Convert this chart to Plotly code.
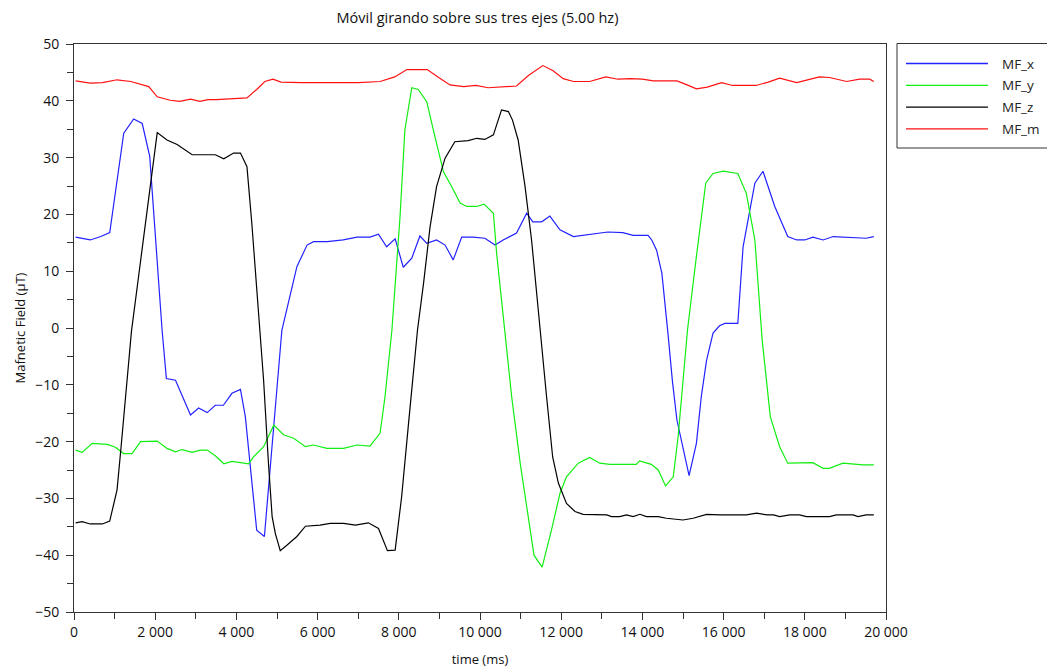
import plotly.graph_objects as go

# ---------------- data ----------------
t_x = [40, 400, 660, 880, 1225, 1470, 1680, 1865, 2170, 2275, 2500, 2870, 3070, 3280, 3480, 3680, 3890, 4100,
       4220, 4500, 4690, 5120, 5490, 5740, 5900, 6240, 6630, 6970, 7290, 7500, 7700, 7910, 8110, 8320, 8520,
       8690, 8930, 9140, 9340, 9550, 9830, 10120, 10370, 10570, 10900, 11150, 11300, 11520, 11720, 11970,
       12300, 12700, 13150, 13520, 13770, 14140, 14230, 14350, 14480, 14630, 14740, 14850, 15040, 15150,
       15330, 15450, 15580, 15740, 15900, 16030, 16350, 16480, 16770, 16970, 17260, 17580, 17800, 18000,
       18200, 18450, 18700, 19020, 19510, 19700]
mf_x = [16.0, 15.5, 16.1, 16.8, 34.3, 36.8, 36.0, 30.2, -0.4, -8.9, -9.2, -15.3, -14.1, -14.9, -13.6, -13.6, -11.5, -10.8,
        -15.6, -35.6, -36.7, -0.4, 10.8, 14.6, 15.2, 15.2, 15.5, 16.0, 16.0, 16.5, 14.3, 15.7, 10.7, 12.3, 16.2,
        14.9, 15.5, 14.6, 12.0, 16.0, 16.0, 15.8, 14.6, 15.5, 16.7, 20.2, 18.7, 18.7, 19.7, 17.3,
        16.1, 16.5, 16.9, 16.8, 16.3, 16.3, 15.5, 13.7, 9.6, -1.0, -9.4, -16.2, -22.1, -26.0,
        -20.3, -12.1, -5.7, -0.9, 0.4, 0.8, 0.8, 14.3, 25.5, 27.6, 21.4, 16.1, 15.5, 15.5,
        16.0, 15.5, 16.1, 16.0, 15.8, 16.1]

t_y = [40, 200, 450, 820, 1020, 1220, 1430, 1640, 2050, 2290, 2500, 2660, 2910, 3110, 3280, 3480, 3690, 3890,
       4300, 4420, 4670, 4920, 5160, 5410, 5700, 5900, 6230, 6640, 6970, 7290, 7540, 7660, 7830, 8030, 8150,
       8320, 8480, 8690, 8850, 9100, 9300, 9510, 9670, 9920, 10100, 10330, 10410, 10640, 10780, 10990, 11230,
       11330, 11530, 11760, 11970, 12130, 12420, 12700, 12950, 13200, 13850, 13930, 14220, 14390, 14570,
       14760, 14880, 15110, 15330, 15560, 15740, 15990, 16350, 16560, 16770, 16950, 17150, 17380, 17580,
       17870, 18200, 18450, 18600, 18940, 19430, 19700]
mf_y = [-21.5, -21.9, -20.3, -20.5, -21.0, -22.1, -22.1, -20.0, -19.9, -21.2, -21.8, -21.4, -21.9, -21.5, -21.5, -22.5, -23.9, -23.5,
        -23.9, -22.7, -20.9, -17.1, -18.8, -19.4, -20.9, -20.6, -21.2, -21.2, -20.6, -20.8, -18.5, -12.1, -0.4, 19.6, 34.9,
        42.3, 42.0, 39.8, 34.9, 27.5, 24.9, 22.0, 21.4, 21.4, 21.8, 20.2, 13.1, -2.1, -12.1, -23.8, -35.6,
        -40.0, -42.1, -35.6, -29.1, -26.2, -23.8, -22.8, -23.8, -24.0, -24.0, -23.4, -24.0, -25.0, -27.8,
        -26.2, -19.1, -0.4, 12.6, 25.5, 27.2, 27.6, 27.2, 23.7, 15.5, -2.1, -15.6, -20.9, -23.8,
        -23.7, -23.7, -24.7, -24.7, -23.8, -24.1, -24.1]

t_z = [40, 200, 400, 700, 880, 1060, 1160, 1415, 1600, 1815, 2050, 2290, 2540, 2910, 3480, 3690, 3930, 4100,
       4260, 4380, 4590, 4670, 4790, 4880, 4960, 5080, 5250, 5490, 5700, 6060, 6310, 6640, 6930, 7250, 7500,
       7620, 7720, 7910, 8070, 8240, 8460, 8610, 8770, 8930, 9140, 9380, 9710, 9920, 10120, 10330, 10530,
       10700, 10800, 10940, 11110, 11270, 11500, 11640, 11790, 11930, 12130, 12340, 12540, 12790, 13120,
       13240, 13440, 13610, 13770, 13940, 14100, 14390, 14590, 15000, 15250, 15580, 15900, 16560, 16810,
       17070, 17230, 17380, 17630, 17870, 18040, 18610, 18780, 19190, 19310, 19510, 19700]
mf_z = [-34.3, -34.1, -34.5, -34.5, -34.0, -28.5, -20.9, -0.6, 9.6, 21.4, 34.4, 33.1, 32.3, 30.5, 30.5, 29.8, 30.8, 30.8,
        28.4, 18.4, -2.1, -9.2, -23.8, -33.2, -36.2, -39.2, -38.2, -36.7, -34.9, -34.7, -34.4, -34.4, -34.7, -34.3, -35.3,
        -37.3, -39.2, -39.1, -29.7, -16.8, -0.4, 7.9, 17.8, 24.9, 29.9, 32.8, 33.0, 33.4, 33.2, 34.0, 38.4,
        38.1, 36.6, 33.1, 24.9, 15.5, -2.1, -12.1, -22.7, -27.3, -30.9, -32.3, -32.8, -32.8, -32.9,
        -33.2, -33.2, -32.9, -33.2, -32.8, -33.2, -33.2, -33.5, -33.8, -33.5, -32.8, -32.9, -32.9, -32.6,
        -32.9, -32.9, -33.2, -32.9, -32.9, -33.2, -33.2, -32.9, -32.9, -33.2, -32.9, -32.9]

t_m = [40, 400, 700, 1060, 1400, 1700, 1840, 2050, 2370, 2600, 2870, 3100, 3300, 3500, 3900, 4260, 4500, 4700,
       4900, 5100, 5600, 6300, 7000, 7540, 7900, 8200, 8700, 9000, 9260, 9600, 9900, 10200, 10600, 10900,
       11200, 11550, 11800, 12050, 12300, 12700, 13100, 13400, 13700, 14000, 14270, 14850, 15100, 15330,
       15600, 15950, 16220, 16800, 17100, 17380, 17800, 18000, 18360, 18610, 19030, 19350, 19600, 19700]
mf_m = [43.5, 43.1, 43.2, 43.7, 43.4, 42.8, 42.5, 40.7, 40.1, 39.9, 40.3, 39.9, 40.2, 40.2, 40.4, 40.5, 42.0, 43.4,
        43.8, 43.3, 43.2, 43.2, 43.2, 43.4, 44.2, 45.5, 45.5, 44.0, 42.8, 42.5, 42.7, 42.3, 42.4, 42.6,
        44.5, 46.2, 45.3, 43.9, 43.4, 43.4, 44.2, 43.8, 43.9, 43.8, 43.5, 43.5, 42.8, 42.1,
        42.4, 43.2, 42.7, 42.7, 43.3, 44.0, 43.2, 43.6, 44.2, 44.1, 43.4, 43.8, 43.8, 43.4]

series_names = ["MF_x", "MF_y", "MF_z", "MF_m"]
series_colors = ["#2222ff", "#11ee11", "#000000", "#ff1111"]

title_text = "Móvil girando sobre sus tres ejes (5.00 hz)"
x_title = "time (ms)"
y_title = "Mafnetic Field (µT)"

FONT = "Open Sans, Noto Sans, DejaVu Sans, sans-serif"

# ---------------- figure ----------------
fig = go.Figure()
for tt, vv, name, col in zip([t_x, t_y, t_z, t_m], [mf_x, mf_y, mf_z, mf_m], series_names, series_colors):
    fig.add_trace(go.Scatter(x=tt, y=vv, mode="lines", name=name,
                             line=dict(color=col, width=1.2), showlegend=False))

# custom legend box (paper coordinates)
plot_l, plot_r, plot_t, plot_b = 73.5, 886.0, 44.0, 612.0
pw, ph = plot_r - plot_l, plot_b - plot_t
def px(x): return (x - plot_l) / pw
def py(y): return (plot_b - y) / ph

shapes = [dict(type="rect", xref="paper", yref="paper",
               x0=px(897), x1=px(1060), y0=py(148), y1=py(43.5),
               line=dict(color="#333333", width=1), fillcolor="white", layer="above")]
annotations = []
for i, (name, col) in enumerate(zip(series_names, series_colors)):
    yy = 63.5 + i * 21.8
    shapes.append(dict(type="line", xref="paper", yref="paper",
                       x0=px(906), x1=px(988), y0=py(yy), y1=py(yy),
                       line=dict(color=col, width=1.3), layer="above"))
    annotations.append(dict(xref="paper", yref="paper", x=px(1000), y=py(yy), text=name,
                            showarrow=False, xanchor="left", yanchor="middle",
                            font=dict(family=FONT, size=13.5, color="#222222")))

fig.update_layout(
    width=1047, height=671,
    margin=dict(l=plot_l, r=1047 - plot_r, t=plot_t, b=671 - plot_b, pad=0, autoexpand=False),
    paper_bgcolor="white", plot_bgcolor="white",
    separators=". ",
    title=dict(text=title_text, x=(335 + 620) / 2 / 1047, xanchor="center",
               y=1 - 18 / 671, yanchor="middle",
               font=dict(family=FONT, size=14.5, color="#111111")),
    font=dict(family=FONT, size=14, color="#111111"),
    shapes=shapes, annotations=annotations,
    xaxis=dict(range=[0, 20000], tickmode="linear", tick0=0, dtick=2000, tickformat=",d",
               automargin=False,
               ticks="outside", ticklen=7, tickcolor="#333333", showgrid=False, zeroline=False,
               showline=True, linecolor="#333333", linewidth=1, mirror=True,
               minor=dict(dtick=1000, ticks="outside", ticklen=6, tickcolor="#333333", showgrid=False),
               title=dict(text=x_title, standoff=15, font=dict(size=13)),
               tickfont=dict(size=14)),
    yaxis=dict(range=[-50, 50], tickmode="linear", tick0=-50, dtick=10,
               automargin=False,
               ticks="outside", ticklen=7, tickcolor="#333333", showgrid=False, zeroline=False,
               showline=True, linecolor="#333333", linewidth=1, mirror=True,
               minor=dict(dtick=5, ticks="outside", ticklen=6, tickcolor="#333333", showgrid=False),
               ticklabelstandoff=4,
               title=dict(text=y_title, standoff=6, font=dict(size=13)),
               tickfont=dict(size=14)),
)

fig.write_html("out.html")
